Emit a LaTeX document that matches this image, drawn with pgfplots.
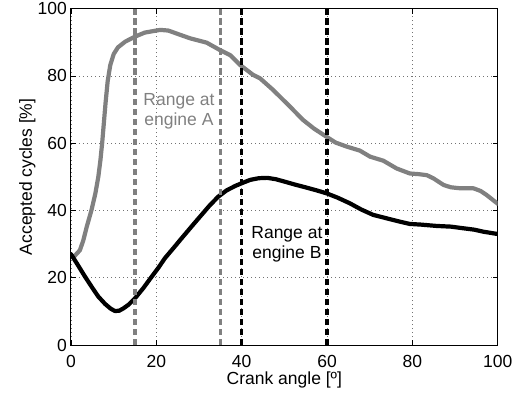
\documentclass[border=0pt]{standalone}
\usepackage{fontspec}
\setmainfont{Liberation Sans}
\usepackage{pgfplots}
\usepackage{pgfplotstable}
\pgfplotsset{compat=1.18}

\pgfplotstableread{
x y
0.8 26.4
2.1 28.2
2.9 31.2
3.7 35.2
4.8 40.1
5.7 45
6.4 50
6.9 55
7.3 60
7.7 66
8.1 72
8.6 78.5
9.2 83.2
10 86.5
11 88.5
12.7 90.2
15 91.7
17.3 92.9
20.9 93.7
22.8 93.5
25 92.5
27.9 91.2
31.8 89.9
34.9 87.7
37.3 86.2
39.6 83.3
42.7 80.3
44.3 79.3
47.4 75.8
51.3 70.9
54.4 66.9
57 64.3
59.9 61.9
62 60.2
64.6 59
67.7 57.8
70.1 56
73.2 54.8
76.3 52.5
79.4 51
81.5 50.8
83.4 50.5
85 49.5
87.3 47.6
89 46.9
91.2 46.6
94.3 46.6
96 45.8
97.4 44.6
100 42
}\engineA

\pgfplotstableread{
x y
0 27
1.5 24
3.3 20.3
5 17
6.4 14.4
8 12.2
9.3 10.8
10.3 10.1
11.3 10.2
12.3 10.9
13.5 12
15 13.9
17 17
18.9 20.3
20.5 23
22 25.8
24 28.8
25.9 31.7
28.3 35.3
30.6 38.7
32.5 41.5
34.5 44.1
36.5 46
38.5 47.3
40 48.1
42 49.1
44 49.6
46 49.7
48 49.3
50 48.6
52.5 47.7
55.2 46.8
57.5 46
59.9 45.1
62.5 43.8
65.4 42.1
68 40.3
70.8 38.7
74.8 37.4
77 36.7
79.4 36
82 35.8
85.7 35.4
89 35.2
92 34.7
94.5 34.3
96.6 33.7
100 33
}\engineB

\definecolor{mgray}{RGB}{128,128,128}

\begin{document}
\fontsize{17.5}{20}\selectfont
\begin{tikzpicture}
\useasboundingbox (-71pt,-49pt) rectangle (442pt,345pt);
\begin{axis}[
  at={(0pt,0pt)}, anchor=south west,
  scale only axis,
  width=426.7pt, height=336.3pt,
  xmin=0, xmax=100, ymin=0, ymax=100,
  xtick={0,20,40,60,80,100},
  ytick={0,20,40,60,80,100},
  tick align=inside,
  major tick length=5pt,
  tick style={black, line width=0.8pt},
  axis line style={black, line width=1pt},
  grid=major,
  major grid style={dash pattern=on 0.8pt off 3.2pt, black!55, line width=0.6pt},
  /pgf/number format/assume math mode=true,
  tick label style={font=\fontsize{17.5}{20}\selectfont},
  xticklabel style={anchor=north, inner sep=0pt, yshift=-10pt},
  yticklabel style={anchor=east, inner sep=0pt, xshift=-4pt},
  xlabel={Crank angle [º]},
  ylabel={Accepted cycles [\%]},
  every axis x label/.style={at={(rel axis cs:0.5,0)}, yshift=-39pt, anchor=base, inner sep=0pt, font=\fontsize{17.5}{20}\selectfont},
  every axis y label/.style={at={(rel axis cs:0,0.5)}, xshift=-39pt, rotate=90, anchor=base, inner sep=0pt, font=\fontsize{17.5}{20}\selectfont},
  clip=true,
]
\addplot[mgray, line width=4.2pt, line join=round, line cap=round] table[x=x,y=y] {\engineA};
\addplot[black, line width=4.2pt, line join=round, line cap=round] table[x=x,y=y] {\engineB};
\addplot[mgray, line width=3.4pt, dash pattern=on 6.5pt off 3.5pt] coordinates {(15,0) (15,100)};
\addplot[mgray, line width=3.4pt, dash pattern=on 6.5pt off 3.5pt] coordinates {(35,0) (35,100)};
\addplot[black, line width=3.4pt, dash pattern=on 6.5pt off 3.5pt] coordinates {(40,0) (40,100)};
\addplot[black, line width=3.4pt, dash pattern=on 6.5pt off 3.5pt] coordinates {(60,0) (60,100)};
\node[mgray, align=center, inner sep=0pt, font=\fontsize{17.5}{20}\selectfont] at (axis cs:25.3,69.6) {Range at\\engine A};
\node[black, align=center, inner sep=0pt, font=\fontsize{17.5}{20}\selectfont] at (axis cs:50.6,29.8) {Range at\\engine B};
\end{axis}
\end{tikzpicture}
\end{document}
